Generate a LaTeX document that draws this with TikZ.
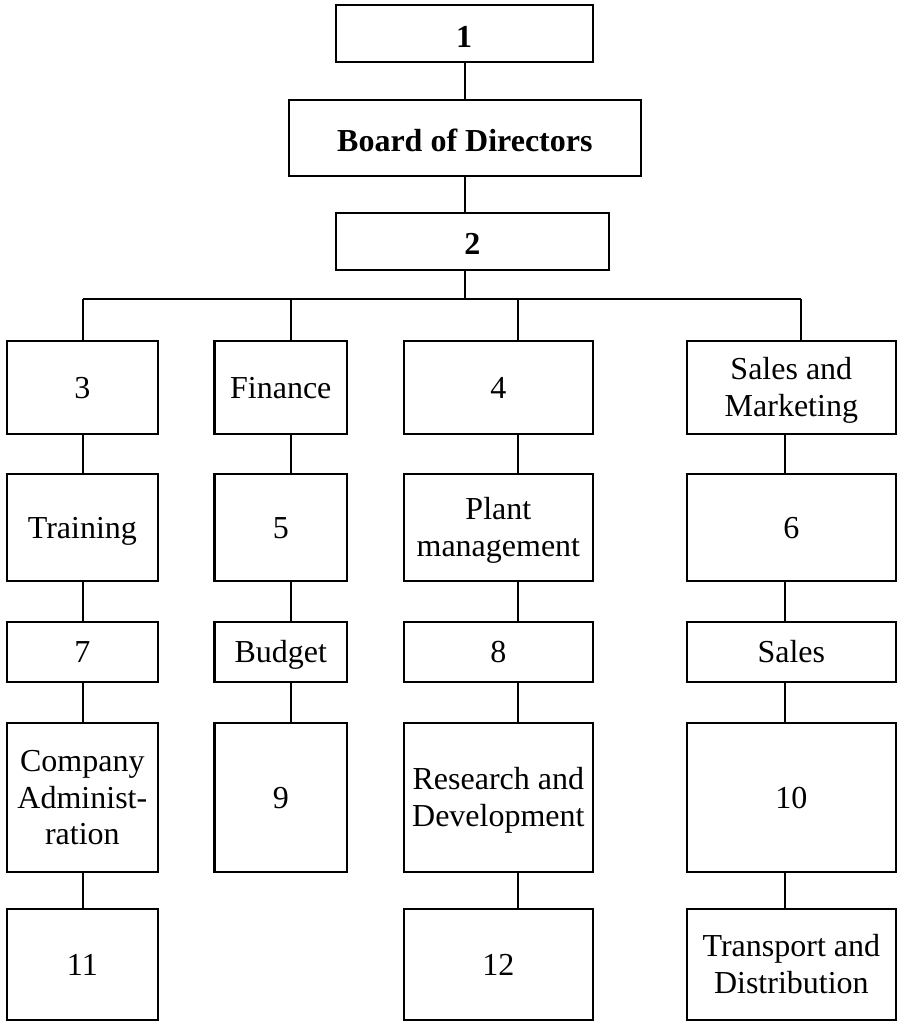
\documentclass[tikz,border=0pt]{standalone}
\usepackage{fontspec}
\setmainfont{Liberation Serif}
% text block whose height runs from cap top of first line to baseline of last line
\newcommand\celltext[2]{\raisebox{0pt}[#1][0pt]{\begin{tabular}[b]{@{}c@{}}#2\end{tabular}}}
\newcommand\one[1]{\celltext{21pt}{#1}}
\newcommand\two[1]{\celltext{57.7pt}{#1}}
\newcommand\three[1]{\celltext{94.4pt}{#1}}
\newcommand\bold[1]{\celltext{27pt}{\bfseries #1}}
\begin{document}
\begin{tikzpicture}[x=1pt,y=-1pt,
  box/.style={draw=black,line width=2.2pt,inner sep=0pt,outer sep=0pt,
    font=\fontsize{32}{36.7}\selectfont},
  conn/.style={draw=black,line width=1.8pt}]
\useasboundingbox (0,0) rectangle (897,1022);
% top
\node[box,minimum width=257pt,minimum height=57pt] (b1) at (464.2,33.8) {\bold{1}};
\node[box,minimum width=352.3pt,minimum height=76pt] (bod) at (464.85,138) {\bold{Board of Directors}};
\node[box,minimum width=273.3pt,minimum height=57pt] (b2) at (472.35,241.5) {\celltext{25pt}{\bfseries 2}};
% column 1
\node[box,minimum width=151.3pt,minimum height=93pt] (n3) at (82.35,387.5) {\one{3}};
\node[box,minimum width=151.3pt,minimum height=107pt] (tr) at (82.35,527.5) {\one{Training}};
\node[box,minimum width=151.3pt,minimum height=60pt] (n7) at (82.35,652) {\one{7}};
\node[box,minimum width=151.3pt,minimum height=149pt] (ca) at (82.35,797.5) {\three{Company\\Administ-\\ration}};
\node[box,minimum width=151.3pt,minimum height=111pt] (n11) at (82.35,964.8) {\one{11}};
% column 2
\node[box,minimum width=132.5pt,minimum height=93pt] (fi) at (280.75,387.5) {\one{Finance}};
\node[box,minimum width=132.5pt,minimum height=107pt] (n5) at (280.75,527.5) {\one{5}};
\node[box,minimum width=132.5pt,minimum height=60pt] (bu) at (280.75,652) {\one{Budget}};
\node[box,minimum width=132.5pt,minimum height=149pt] (n9) at (280.75,797.5) {\one{9}};
% column 3
\node[box,minimum width=189.3pt,minimum height=93pt] (n4) at (498.35,387.5) {\one{4}};
\node[box,minimum width=189.3pt,minimum height=107pt] (pm) at (498.35,527.5) {\two{Plant\\management}};
\node[box,minimum width=189.3pt,minimum height=60pt] (n8) at (498.35,652) {\one{8}};
\node[box,minimum width=189.3pt,minimum height=149pt] (rd) at (498.35,797.5) {\two{Research and\\Development}};
\node[box,minimum width=189.3pt,minimum height=111pt] (n12) at (498.35,964.8) {\one{12}};
% column 4
\node[box,minimum width=208.7pt,minimum height=93pt] (sm) at (791.35,387.5) {\two{Sales and\\Marketing}};
\node[box,minimum width=208.7pt,minimum height=107pt] (n6) at (791.35,527.5) {\one{6}};
\node[box,minimum width=208.7pt,minimum height=60pt] (sa) at (791.35,652) {\one{Sales}};
\node[box,minimum width=208.7pt,minimum height=149pt] (n10) at (791.35,797.5) {\one{10}};
\node[box,minimum width=208.7pt,minimum height=111pt] (td) at (791.35,964.8) {\two{Transport and\\Distribution}};
% connector x positions
\coordinate (hl) at (465,299);
\coordinate (cx1) at (82.7,0);
\coordinate (cx2) at (291,0);
\coordinate (cx3) at (518,0);
\coordinate (cx4) at (800.7,0);
\coordinate (cx4b) at (784.7,0);
% top connectors
\draw[conn] (b1.south -| hl) -- (bod.north -| hl);
\draw[conn] (bod.south -| hl) -- (b2.north -| hl);
\draw[conn] (b2.south -| hl) -- (hl);
\draw[conn] (hl -| cx1) -- (hl -| cx4);
\draw[conn] (hl -| cx1) -- (n3.north -| cx1);
\draw[conn] (hl -| cx2) -- (fi.north -| cx2);
\draw[conn] (hl -| cx3) -- (n4.north -| cx3);
\draw[conn] (hl -| cx4) -- (sm.north -| cx4);
% column connectors
\draw[conn] (n3.south -| cx1) -- (tr.north -| cx1);
\draw[conn] (tr.south -| cx1) -- (n7.north -| cx1);
\draw[conn] (n7.south -| cx1) -- (ca.north -| cx1);
\draw[conn] (ca.south -| cx1) -- (n11.north -| cx1);
\draw[conn] (fi.south -| cx2) -- (n5.north -| cx2);
\draw[conn] (n5.south -| cx2) -- (bu.north -| cx2);
\draw[conn] (bu.south -| cx2) -- (n9.north -| cx2);
\draw[conn] (n4.south -| cx3) -- (pm.north -| cx3);
\draw[conn] (pm.south -| cx3) -- (n8.north -| cx3);
\draw[conn] (n8.south -| cx3) -- (rd.north -| cx3);
\draw[conn] (rd.south -| cx3) -- (n12.north -| cx3);
\draw[conn] (sm.south -| cx4b) -- (n6.north -| cx4b);
\draw[conn] (n6.south -| cx4b) -- (sa.north -| cx4b);
\draw[conn] (sa.south -| cx4b) -- (n10.north -| cx4b);
\draw[conn] (n10.south -| cx4b) -- (td.north -| cx4b);
\end{tikzpicture}
\end{document}
